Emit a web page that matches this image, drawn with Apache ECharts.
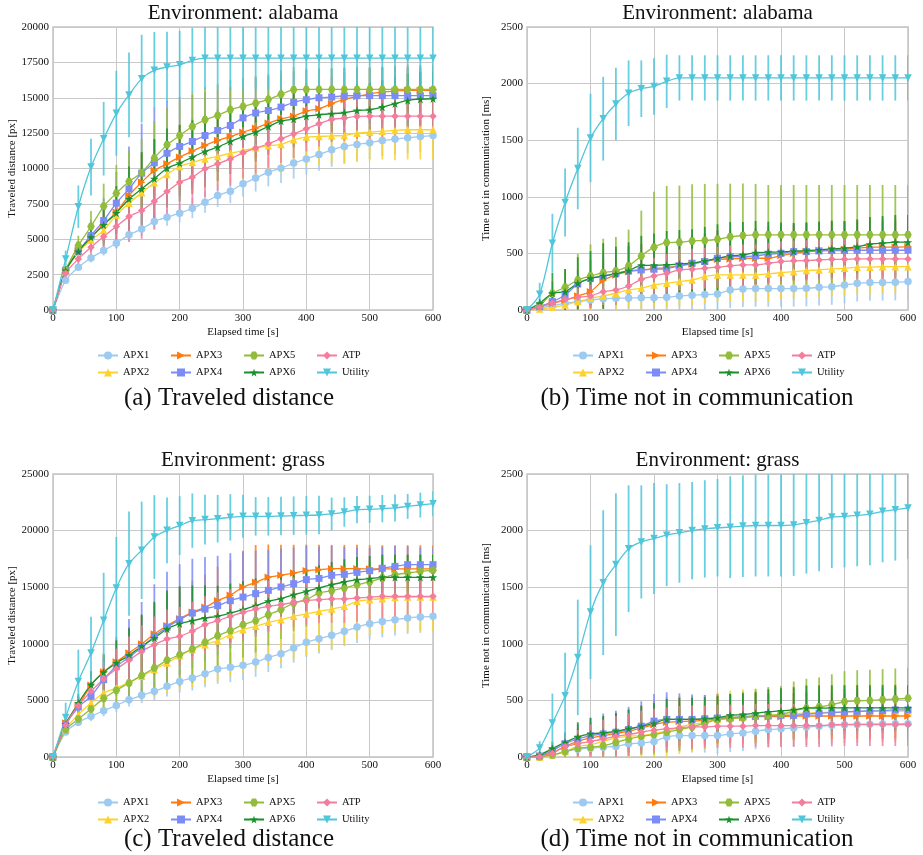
<!DOCTYPE html>
<html>
<head>
<meta charset="utf-8">
<script src="https://cdn.jsdelivr.net/npm/echarts@6/dist/echarts.min.js"></script>
<style>html,body{margin:0;padding:0;background:#fff}#main{width:923px;height:855px}</style>
</head>
<body>
<div id="main"></div>
<script>
// ---------- DATA ----------
const timeSteps = [0,20,40,60,80,100,120,140,160,180,200,220,240,260,280,300,320,340,360,380,400,420,440,460,480,500,520,540,560,580,600];
const seriesNames = ['APX1','APX2','APX3','APX4','APX5','APX6','ATP','Utility'];

// (a) alabama - traveled distance [px]
const a_APX1 = [0,2100,3020,3680,4200,4720,5310,5730,6250,6560,6840,7190,7620,8090,8400,8920,9320,9740,10020,10380,10680,10990,11320,11560,11700,11820,11980,12080,12170,12260,12330];
const a_APX2 = [0,2700,4080,4950,5610,6720,7550,8280,8990,9580,10140,10420,10680,10850,11080,11270,11460,11600,11700,12030,12220,12260,12310,12330,12500,12570,12640,12690,12740,12740,12740];
const a_APX3 = [0,2750,4200,5100,6080,6900,8100,9030,9860,10330,10800,11230,11630,11980,12260,12570,12850,13200,13510,13700,14060,14220,14580,14880,15090,15280,15400,15470,15520,15520,15520];
const a_APX4 = [0,2800,4150,5260,6320,7550,8560,9670,10400,11080,11560,11910,12330,12690,13040,13580,13920,14100,14340,14670,14860,15000,15050,15140,15150,15150,15150,15150,15150,15150,15150];
const a_APX5 = [0,2800,4550,5900,7330,8250,9080,9700,10750,11670,12330,12970,13440,13750,14150,14390,14620,14880,15240,15570,15590,15590,15590,15590,15590,15590,15590,15590,15590,15590,15590];
const a_APX6 = [0,2800,4130,5140,6010,6860,7850,8560,9270,10020,10380,10800,11200,11510,11910,12260,12570,12970,13350,13490,13700,13800,13870,13940,14100,14150,14340,14580,14810,14900,14930];
const a_ATP = [0,2600,3610,4430,5190,5900,6600,7030,7690,8370,9030,9390,9980,10330,10680,11110,11440,11750,12100,12450,12810,13160,13470,13560,13680,13700,13700,13700,13700,13700,13700];
const a_Utility = [0,3600,7300,10100,12100,13900,15200,16350,16950,17170,17330,17640,17800,17800,17800,17800,17800,17800,17800,17800,17800,17800,17800,17800,17800,17800,17800,17800,17800,17800,17800];
const a_APX1_err = [0,150,250,300,350,400,450,500,550,600,650,700,750,800,850,900,950,1000,1050,1100,1100,1150,1200,1200,1200,1150,1100,1100,1100,1100,1100];
const a_APX2_err = [0,250,500,700,900,1100,1300,1500,1700,1800,1900,2000,2000,2000,2000,2000,2000,2000,2000,2000,2000,2000,2000,2000,2000,2000,2000,2100,2100,2100,2100];
const a_APX3_err = [0,300,600,900,1200,1500,1800,2000,2200,2300,2300,2300,2300,2200,2200,2100,2100,2000,2000,2000,2000,1900,1900,1900,1800,1800,1800,1800,1800,1800,1800];
const a_APX4_err = [0,300,700,1100,1600,2200,3000,3500,3900,3700,3500,3300,3100,2900,2700,2600,2500,2400,2300,2200,2100,2000,2000,2000,2000,2000,2000,2000,2000,2000,2000];
const a_APX5_err = [0,300,700,1100,1600,2000,2200,2400,2600,2600,2500,2400,2300,2200,2100,2000,1900,1800,1700,1600,1500,1500,1500,1500,1500,1500,1500,1500,1500,1500,1500];
const a_APX6_err = [0,300,700,1000,1500,1900,2300,2600,2800,2800,2700,2600,2500,2400,2300,2200,2100,2000,2000,2000,1900,1900,1900,1900,1900,1900,1900,1900,1900,1900,1900];
const a_ATP_err = [0,300,600,900,1200,1500,1800,2000,2000,2000,2000,2000,2000,1900,1900,1800,1800,1700,1700,1700,1600,1600,1600,1600,1600,1600,1600,1600,1600,1600,1600];
const a_Utility_err = [0,600,1500,2000,2600,3000,3000,3100,2700,2500,2400,2300,2200,2200,2200,2200,2200,2200,2200,2200,2200,2200,2200,2200,2200,2200,2200,2200,2200,2200,2200];

// (b) alabama - time not in communication [ms]
const b_APX1 = [0,15,38,59,74,88,100,103,106,109,109,112,124,130,136,142,177,186,189,189,189,189,192,200,206,221,236,242,242,245,251];
const b_APX2 = [0,9,24,44,74,103,124,148,177,192,221,236,251,265,295,310,310,310,310,319,330,339,348,354,363,369,378,378,383,383,383];
const b_APX3 = [0,30,59,88,124,162,260,310,339,354,366,375,390,407,428,448,451,457,457,457,481,501,516,525,531,537,546,555,555,555,560];
const b_APX4 = [0,30,74,133,230,280,300,324,345,354,360,366,390,413,428,457,472,472,478,493,501,516,516,522,525,525,528,528,528,528,528];
const b_APX5 = [0,40,148,200,265,300,330,345,390,478,555,596,599,610,614,625,646,658,664,664,664,664,664,664,664,664,664,664,664,664,664];
const b_APX6 = [0,59,148,162,236,280,300,319,348,395,395,398,407,413,434,457,478,487,507,510,513,519,525,531,540,546,560,581,590,599,599];
const b_ATP = [0,24,59,94,112,124,162,177,212,271,300,324,354,360,369,378,390,398,398,413,428,434,437,442,448,448,451,451,451,451,451];
const b_Utility = [0,140,590,950,1250,1520,1690,1820,1915,1955,1975,2020,2050,2050,2050,2050,2050,2050,2050,2050,2050,2050,2050,2050,2050,2050,2050,2050,2050,2050,2050];
const b_APX1_err = [0,20,40,60,70,80,90,100,110,120,130,140,150,150,150,160,160,160,160,160,160,160,160,160,160,160,160,160,160,160,160];
const b_APX2_err = [0,20,40,60,80,100,120,140,160,180,200,210,220,230,240,240,240,240,240,240,240,240,240,240,240,240,240,240,240,240,240];
const b_APX3_err = [0,30,60,90,120,150,180,200,220,230,240,250,250,250,250,250,250,250,250,250,250,250,250,250,250,250,250,250,250,250,250];
const b_APX4_err = [0,30,60,90,130,160,190,210,220,230,240,250,250,250,250,250,250,250,250,250,250,250,250,250,250,250,250,250,250,250,250];
const b_APX5_err = [0,40,100,160,230,280,300,300,320,400,490,500,500,500,500,490,470,460,450,440,440,440,440,440,440,440,440,440,440,440,440];
const b_APX6_err = [0,40,180,200,230,240,290,240,250,260,280,300,300,300,300,300,300,290,280,270,260,250,250,250,250,240,240,240,240,240,240];
const b_ATP_err = [0,20,40,60,80,100,120,130,140,150,160,170,180,180,180,180,180,180,180,180,180,180,180,180,180,180,180,180,180,180,180];
const b_Utility_err = [0,100,260,300,360,390,370,320,290,250,250,235,200,200,200,200,200,200,200,200,200,200,200,200,200,200,200,200,200,200,200];

// (c) grass - traveled distance [px]
const c_APX1 = [0,2200,3060,3590,4090,4560,5060,5450,5800,6240,6680,6980,7360,7770,7920,8100,8390,8800,9130,9630,10130,10450,10750,11100,11480,11780,11980,12130,12280,12370,12430];
const c_APX2 = [0,2500,3740,4770,5650,6100,6600,7130,7710,8300,8950,9480,9920,10280,10810,11250,11540,11900,12130,12430,12630,12870,13070,13310,13750,13900,13990,14100,14130,14130,14130];
const c_APX3 = [0,3000,4530,6330,7510,8390,9190,9980,10870,11600,12220,12780,13220,13810,14280,15020,15430,15870,16050,16250,16460,16550,16640,16640,16640,16610,16610,16610,16610,16610,16610];
const c_APX4 = [0,2800,4420,5360,6830,8010,8800,9690,10660,11460,12130,12720,13070,13370,13810,14130,14430,14720,15020,15310,15670,15780,16050,16140,16310,16460,16670,16840,16990,16990,16990];
const c_APX5 = [0,2400,3360,4240,5180,5890,6540,7210,7860,8540,9040,9540,10130,10720,11160,11690,12040,12570,13020,13600,13900,14490,14690,14930,15220,15460,15810,16110,16250,16400,16490];
const c_APX6 = [0,2900,4770,6390,7480,8300,8980,9780,10510,11310,11780,12040,12280,12430,12720,13020,13370,13750,13990,14340,14630,14930,15220,15460,15670,15750,15870,15870,15870,15870,15870];
const c_ATP = [0,2800,4530,5800,6890,7770,8540,9330,9920,10420,10660,11130,11690,12040,12430,12780,13070,13310,13460,13660,13810,13900,13960,13960,14050,14100,14190,14190,14190,14190,14190];
const c_Utility = [0,3500,6680,9190,12070,14930,17080,18260,19430,20020,20440,20880,20970,21050,21170,21260,21260,21260,21290,21320,21350,21380,21470,21640,21850,21880,21940,22000,22140,22260,22380];
const c_APX1_err = [0,200,300,400,500,600,600,700,800,900,1000,1100,1200,1300,1300,1300,1300,1300,1300,1300,1300,1300,1300,1300,1400,1400,1400,1400,1400,1400,1400];
const c_APX2_err = [0,300,600,900,1200,1500,1800,2100,2400,2700,3000,3300,3500,3600,3700,3800,3800,3800,3800,3800,3700,3600,3500,3400,3300,3200,3100,3000,3000,3000,3000];
const c_APX3_err = [0,400,800,1200,1600,2000,2300,2500,2700,2800,2800,2800,2900,3000,3100,3200,3300,2900,2700,2500,2300,2200,2100,2100,2100,2100,2100,2100,2100,2100,2100];
const c_APX4_err = [0,400,900,1400,2000,2600,3400,4000,4600,4900,4900,4800,4600,4400,4200,4000,3800,3600,3400,3200,3000,2800,2600,2400,2200,2000,1900,1800,1600,1500,1500];
const c_APX5_err = [0,300,600,900,1200,1500,1800,2100,2400,2600,2800,3000,3100,3100,3000,2900,2800,2700,2600,2500,2400,2300,2200,2100,2000,1900,1800,1700,1600,1500,1500];
const c_APX6_err = [0,400,800,1200,1600,2000,2400,2800,3200,3400,3300,3100,2900,2700,2600,2500,2400,2300,2200,2100,2000,2000,2000,2000,2000,2000,2000,2000,2000,2000,2000];
const c_ATP_err = [0,300,700,1100,1500,1800,2100,2300,2500,2600,2600,2600,2500,2500,2400,2400,2300,2300,2200,2200,2100,2100,2100,2100,2100,2100,2100,2100,2100,2100,2100];
const c_Utility_err = [0,1300,2800,3200,4200,4500,4600,4300,3700,2900,2600,2400,2200,2100,2050,1900,1700,1700,1700,1700,1700,1700,1450,1300,1200,1200,1200,1200,1100,1100,1100];

// (d) grass - time not in communication [ms]
const d_APX1 = [0,3,18,48,69,78,87,93,117,123,138,177,189,189,189,189,204,213,228,243,249,257,266,272,280,285,288,290,292,293,294];
const d_APX2 = [0,0,18,48,93,108,138,168,183,189,207,228,266,287,308,332,347,356,362,368,377,383,388,392,396,400,402,404,405,406,406];
const d_APX3 = [0,9,39,93,138,168,189,207,228,257,287,308,314,317,326,338,344,350,356,356,356,362,362,362,362,362,362,362,362,362,362];
const d_APX4 = [0,9,57,117,159,189,204,219,243,272,317,332,332,332,338,344,347,356,362,362,368,368,380,386,392,398,404,407,410,416,416];
const d_APX5 = [0,3,18,48,78,87,99,129,159,183,198,219,243,266,296,332,338,347,362,368,377,407,431,443,461,488,497,500,506,512,518];
const d_APX6 = [0,18,75,129,177,204,213,228,249,272,296,332,332,332,338,347,368,374,386,398,407,416,431,431,434,434,434,434,434,434,434];
const d_ATP = [0,3,33,93,117,138,159,183,198,219,237,249,260,266,266,272,272,272,278,278,278,278,278,278,284,287,287,287,287,287,287];
const d_Utility = [0,80,300,540,880,1280,1540,1700,1840,1900,1930,1960,1980,2000,2015,2025,2030,2040,2045,2045,2045,2050,2070,2090,2120,2125,2135,2145,2170,2185,2200];
const d_APX1_err = [0,10,30,50,60,70,80,90,100,110,120,130,140,150,150,160,160,160,160,160,160,160,160,160,160,160,160,160,160,160,160];
const d_APX2_err = [0,20,40,70,100,130,160,180,200,210,220,230,240,240,240,240,240,240,240,240,240,240,240,240,240,240,240,240,240,240,240];
const d_APX3_err = [0,20,50,90,120,140,160,180,190,200,210,220,220,220,220,220,210,210,210,200,200,200,200,200,200,200,200,200,200,200,200];
const d_APX4_err = [0,20,50,90,130,160,180,190,200,220,240,240,230,220,210,210,200,200,200,200,200,200,200,200,200,200,200,200,200,200,200];
const d_APX5_err = [0,20,40,60,90,110,130,140,150,160,170,180,190,200,200,210,220,230,240,250,250,260,260,260,270,270,270,270,270,270,270];
const d_APX6_err = [0,30,60,90,130,140,150,160,170,180,180,180,190,190,190,190,190,190,190,200,200,200,200,200,200,200,200,200,200,200,200];
const d_ATP_err = [0,20,40,80,120,150,170,180,190,190,190,190,190,190,190,190,190,190,190,190,190,190,190,190,190,190,190,190,190,190,190];
const d_Utility_err = [0,60,260,380,510,590,640,630,560,500,490,450,440,430,430,430,450,450,450,450,450,450,450,450,450,450,450,450,450,450,450];

// ---------- STYLE ----------
const colors = ['#9ccaf1','#fdd22c','#ff7b0f','#7b8cf6','#92bd3a','#19902b','#f47c9c','#4fc6d9'];
const star = 'path://M50,0 L61,35 L98,35 L68,57 L79,91 L50,70 L21,91 L32,57 L2,35 L39,35 Z';
const hexagon = 'path://M25,0 L75,0 L100,50 L75,100 L25,100 L0,50 Z';
const symbols = ['circle','triangle','path://M0,0 L100,50 L0,100 Z','rect',hexagon,star,'diamond','path://M0,0 L100,0 L50,100 Z'];
const symbolSizes = [7.5,7.5,7.5,7,7.5,8.5,7.5,7.5];
const FONT = 'Liberation Serif';

const panels = [
  {vals:[a_APX1,a_APX2,a_APX3,a_APX4,a_APX5,a_APX6,a_ATP,a_Utility], errs:[a_APX1_err,a_APX2_err,a_APX3_err,a_APX4_err,a_APX5_err,a_APX6_err,a_ATP_err,a_Utility_err],
   left:53, top:27, width:380, height:283, yMax:20000, yInt:2500, yName:'Traveled distance [px]', title:'Environment: alabama', caption:'(a) Traveled distance', capX:229, capY:398, legX:97, legY:350},
  {vals:[b_APX1,b_APX2,b_APX3,b_APX4,b_APX5,b_APX6,b_ATP,b_Utility], errs:[b_APX1_err,b_APX2_err,b_APX3_err,b_APX4_err,b_APX5_err,b_APX6_err,b_ATP_err,b_Utility_err],
   left:527, top:27, width:381, height:283, yMax:2500, yInt:500, yName:'Time not in communication [ms]', title:'Environment: alabama', caption:'(b) Time not in communication', capX:697, capY:398, legX:572, legY:350},
  {vals:[c_APX1,c_APX2,c_APX3,c_APX4,c_APX5,c_APX6,c_ATP,c_Utility], errs:[c_APX1_err,c_APX2_err,c_APX3_err,c_APX4_err,c_APX5_err,c_APX6_err,c_ATP_err,c_Utility_err],
   left:53, top:474, width:380, height:283, yMax:25000, yInt:5000, yName:'Traveled distance [px]', title:'Environment: grass', caption:'(c) Traveled distance', capX:229, capY:839, legX:97, legY:797},
  {vals:[d_APX1,d_APX2,d_APX3,d_APX4,d_APX5,d_APX6,d_ATP,d_Utility], errs:[d_APX1_err,d_APX2_err,d_APX3_err,d_APX4_err,d_APX5_err,d_APX6_err,d_ATP_err,d_Utility_err],
   left:527, top:474, width:381, height:283, yMax:2500, yInt:500, yName:'Time not in communication [ms]', title:'Environment: grass', caption:'(d) Time not in communication', capX:697, capY:839, legX:572, legY:797}
];

const grid = [], xAxis = [], yAxis = [], series = [], legend = [], graphic = [];
const legendCols = [['APX1','APX2'],['APX3','APX4'],['APX5','APX6'],['ATP','Utility']];
const plain = v => String(v);

panels.forEach((p, pi) => {
  grid.push({left:p.left, top:p.top, width:p.width, height:p.height, show:true, borderColor:'#c4c4c4', borderWidth:1.5, containLabel:false});
  xAxis.push({type:'value', gridIndex:pi, min:0, max:600, interval:100,
    axisLine:{show:false}, axisTick:{show:false},
    axisLabel:{fontFamily:FONT, fontSize:11, color:'#111', margin:3, formatter:plain},
    splitLine:{show:true, lineStyle:{color:'#c8c8c8', width:1}},
    name:'Elapsed time [s]', nameLocation:'middle', nameGap:17,
    nameTextStyle:{fontFamily:FONT, fontSize:11, color:'#111'}});
  yAxis.push({type:'value', gridIndex:pi, min:0, max:p.yMax, interval:p.yInt,
    axisLine:{show:false}, axisTick:{show:false},
    axisLabel:{fontFamily:FONT, fontSize:11, color:'#111', margin:4, formatter:plain},
    splitLine:{show:true, lineStyle:{color:'#c8c8c8', width:1}},
    name:p.yName, nameLocation:'middle', nameGap:35,
    nameTextStyle:{fontFamily:FONT, fontSize:11, color:'#111'}});

  seriesNames.forEach((nm, si) => {
    const vals = p.vals[si], errs = p.errs[si], col = colors[si];
    series.push({
      type:'custom', name:nm + ' error', xAxisIndex:pi, yAxisIndex:pi, silent:true, clip:true,
      data: timeSteps.map((t, k) => [t, vals[k] - errs[k], vals[k] + errs[k]]),
      renderItem: (params, api) => {
        const p1 = api.coord([api.value(0), api.value(1)]);
        const p2 = api.coord([api.value(0), api.value(2)]);
        return {type:'line', shape:{x1:p1[0], y1:p1[1], x2:p2[0], y2:p2[1]},
          style:{stroke:col, lineWidth:1.8, opacity:0.85}};
      }
    });
    series.push({
      type:'line', name:nm, xAxisIndex:pi, yAxisIndex:pi, clip:true,
      data: timeSteps.map((t, k) => [t, vals[k]]),
      symbol:symbols[si], symbolSize:symbolSizes[si], showSymbol:true, showAllSymbol:true,
      smooth:0.25, lineStyle:{width:1.3, color:col}, itemStyle:{color:col}
    });
  });

  legendCols.forEach((cnames, ci) => {
    legend.push({orient:'vertical', left:p.legX + ci*73, top:p.legY, padding:0,
      itemWidth:20, itemHeight:10, itemGap:6, selectedMode:false, data:cnames,
      textStyle:{fontFamily:FONT, fontSize:10.5, color:'#111'}});
  });

  graphic.push({type:'text', x:p.left + p.width/2, y:p.top - 14,
    style:{text:p.title, font:'21px "' + FONT + '"', fill:'#111', textAlign:'center', textVerticalAlign:'middle'}});
  graphic.push({type:'text', x:p.capX, y:p.capY,
    style:{text:p.caption, font:'25px "' + FONT + '"', fill:'#111', textAlign:'center', textVerticalAlign:'middle'}});
});

const chart = echarts.init(document.getElementById('main'), null, {renderer:'canvas'});
chart.setOption({animation:false, backgroundColor:'#fff', grid, xAxis, yAxis, series, legend, graphic});
</script>
</body>
</html>
